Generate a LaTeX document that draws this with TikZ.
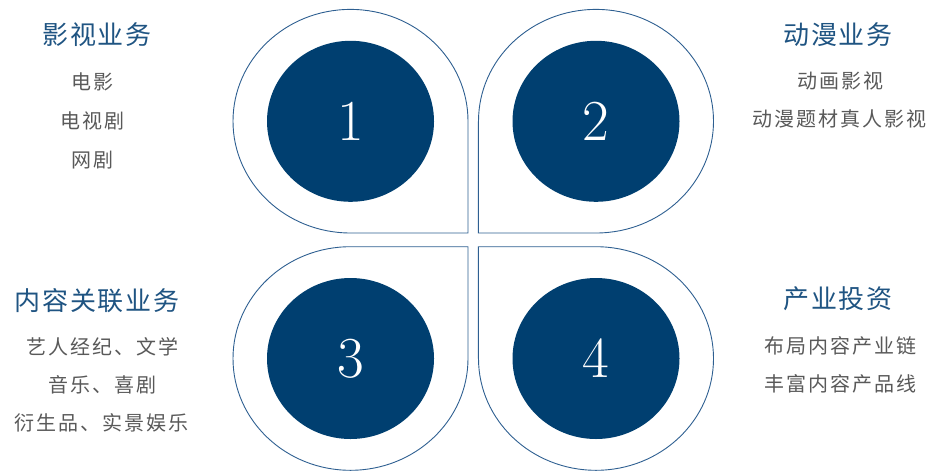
\documentclass[tikz,border=0pt]{standalone}
\usepackage{fontspec}
\newfontfamily\cjk{Noto Sans CJK SC}
\newfontfamily\cjktitle[LetterSpace=7]{Noto Sans CJK SC}
\newfontfamily\cjkitem[LetterSpace=10]{Noto Sans CJK SC}
\usetikzlibrary{shapes.geometric}
\definecolor{lineblue}{RGB}{46,95,145}
\definecolor{darkblue}{RGB}{0,63,112}
\definecolor{titleblue}{RGB}{31,84,130}
\definecolor{itemgray}{RGB}{89,89,89}
\begin{document}
\begin{tikzpicture}[x=1pt, y=-1pt,
        drop/.style={draw=lineblue, line width=0.9pt},
        ball/.style={ellipse, fill=darkblue, text=white, minimum width=167pt, minimum height=161pt,
          inner sep=0pt, font=\fontsize{58}{60}\selectfont},
        title/.style={text=titleblue, font=\cjktitle\fontsize{26}{28}\selectfont},
        item/.style={text=itemgray, font=\cjkitem\fontsize{20}{22}\selectfont}
        ]
      \useasboundingbox (0,0) rectangle (936,471);
      % outlined drops, pointed corner towards the middle
      \draw[drop] (468,121.3) -- (468,233) -- (350.5,233)
        arc[start angle=270, end angle=0, x radius=117.5pt, y radius=111.8pt];
      \draw[drop] (478.3,121.3) -- (478.3,233) -- (596,233)
        arc[start angle=270, end angle=540, x radius=117.5pt, y radius=111.8pt];
      \draw[drop] (468,358.5) -- (468,246.7) -- (350.5,246.7)
        arc[start angle=90, end angle=360, x radius=117.5pt, y radius=111.8pt];
      \draw[drop] (478.3,358.5) -- (478.3,246.7) -- (596,246.7)
        arc[start angle=90, end angle=-180, x radius=117.5pt, y radius=111.8pt];

      \node[ball] (b1) at (350.5,121.3) {1};
      \node[ball] (b2) at (596,121.3) {2};
      \node[ball] (b3) at (350.5,358.5) {3};
      \node[ball] (b4) at (596,358.5) {4};

      \node[title] (t1) at (97,35) {影视业务};
      \node[item] (t1a) at (92,82) {电影};
      \node[item] (t1b) at (92,121) {电视剧};
      \node[item] (t1c) at (92,160) {网剧};

      \node[title] (t2) at (838,35) {动漫业务};
      \node[item] (t2a) at (840,81) {动画影视};
      \node[item] (t2b) at (839,119) {动漫题材真人影视};

      \node[title] (t3) at (97,301) {内容关联业务};
      \node[item] (t3a) at (102,347) {艺人经纪、文学};
      \node[item] (t3b) at (102,385) {音乐、喜剧};
      \node[item] (t3c) at (101,423) {衍生品、实景娱乐};

      \node[title] (t4) at (838,299) {产业投资};
      \node[item] (t4a) at (840,346) {布局内容产业链};
      \node[item] (t4b) at (840,384) {丰富内容产品线};

    \end{tikzpicture}
\end{document}
